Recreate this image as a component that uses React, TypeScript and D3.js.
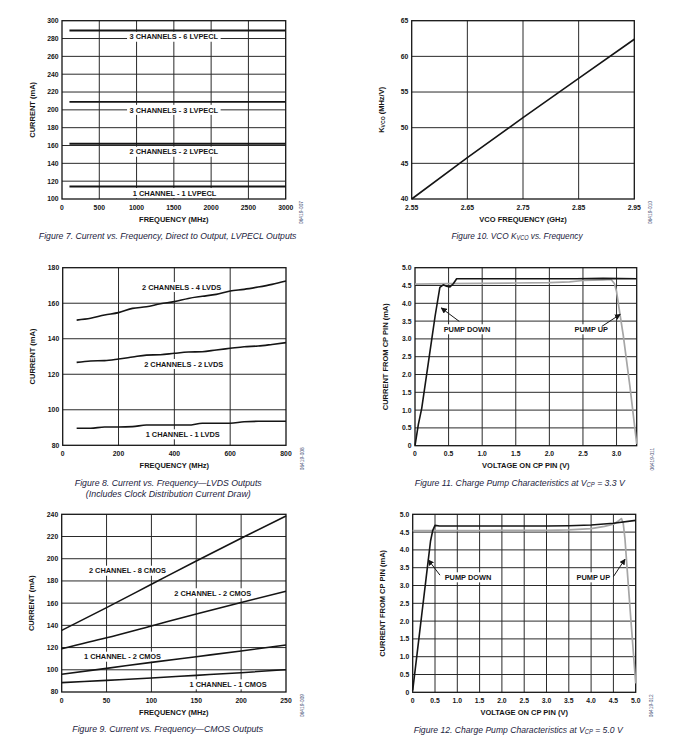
import React from 'react';
import * as d3 from 'd3';

// Figure 7 – LVPECL
const f7Freq = [100, 500, 1000, 1500, 2000, 2500, 3000];
const f7Ch3Lv6 = [289, 289, 289, 289, 289, 289, 289];
const f7Ch3Lv3 = [209, 209, 209, 209, 209, 209, 209];
const f7Ch2Lv2 = [162, 162, 162, 162, 162, 162, 162];
const f7Ch1Lv1 = [114, 114, 114, 114, 114, 114, 114];
const f7XTicks = [0, 500, 1000, 1500, 2000, 2500, 3000];
const f7YTicks = [100, 120, 140, 160, 180, 200, 220, 240, 260, 280, 300];

// Figure 10 – Kvco
const f10Freq = [2.55, 2.65, 2.75, 2.85, 2.95];
const f10Kvco = [40, 45.8, 51.4, 56.9, 62.4];
const f10XTicks = [2.55, 2.65, 2.75, 2.85, 2.95];
const f10YTicks = [40, 45, 50, 55, 60, 65];

// Figure 8 – LVDS
const f8Freq = [50, 100, 150, 200, 250, 300, 350, 400, 450, 500, 550, 600, 650, 700, 750, 800];
const f8Ch2Lv4 = [150.5, 151.5, 153.4, 154.7, 157.1, 158, 159.7, 160.9, 162.7, 163.9, 165, 166.9, 167.8, 169.1, 170.6, 172.5];
const f8Ch2Lv2 = [126.7, 127.5, 127.7, 128.6, 129.7, 130.8, 131, 131.8, 132.5, 132.7, 133.7, 134.6, 135.5, 135.9, 136.8, 137.8];
const f8Ch1Lv1 = [89.6, 89.6, 90.3, 90.3, 90.5, 91.4, 91.4, 91.4, 91.4, 92.4, 92.4, 92.4, 93.3, 93.5, 93.5, 93.5];
const f8XTicks = [0, 200, 400, 600, 800];
const f8YTicks = [80, 100, 120, 140, 160, 180];

// Figure 11 – charge pump, Vcp = 3.3 V
const f11DownV = [0, 0.05, 0.1, 0.2, 0.3, 0.37, 0.42, 0.47, 0.52, 0.57, 0.62, 0.7, 1.5, 2.4, 2.8, 3.3];
const f11DownI = [0, 0.6, 1.05, 2.35, 3.65, 4.45, 4.52, 4.48, 4.46, 4.55, 4.69, 4.69, 4.69, 4.69, 4.7, 4.69];
const f11UpV = [0, 0.5, 1, 1.5, 2, 2.3, 2.5, 2.8, 2.92, 2.97, 3.0, 3.03, 3.1, 3.2, 3.3];
const f11UpI = [4.54, 4.55, 4.56, 4.57, 4.58, 4.6, 4.64, 4.66, 4.67, 4.55, 4.33, 3.95, 3.1, 1.65, 0.05];
const f11XTicks = [0, 0.5, 1, 1.5, 2, 2.5, 3];
const cpYTicks = [0, 0.5, 1, 1.5, 2, 2.5, 3, 3.5, 4, 4.5, 5];

// Figure 9 – CMOS
const f9Freq = [0, 50, 100, 150, 200, 250];
const f9Ch2C8 = [135.5, 156, 177, 198, 218.5, 238.5];
const f9Ch2C2 = [119, 128.8, 139.5, 150.2, 160.6, 170.7];
const f9Ch1C2 = [96, 101.3, 106.7, 111.8, 116.9, 122.3];
const f9Ch1C1 = [88.4, 90.5, 92.6, 95, 97.4, 100.1];
const f9XTicks = [0, 50, 100, 150, 200, 250];
const f9YTicks = [80, 100, 120, 140, 160, 180, 200, 220, 240];

// Figure 12 – charge pump, Vcp = 5.0 V
const f12DownV = [0, 0.1, 0.2, 0.3, 0.4, 0.45, 0.5, 0.6, 1, 2, 3, 3.5, 4, 4.5, 5];
const f12DownI = [0.05, 1.1, 2.15, 3.2, 4.25, 4.55, 4.69, 4.67, 4.67, 4.67, 4.67, 4.68, 4.7, 4.75, 4.83];
const f12UpV = [0, 0.5, 1, 1.5, 2, 2.5, 3, 3.5, 4, 4.3, 4.5, 4.62, 4.68, 4.72, 4.76, 4.8, 4.9, 5];
const f12UpI = [4.54, 4.54, 4.54, 4.54, 4.55, 4.55, 4.55, 4.56, 4.6, 4.66, 4.72, 4.82, 4.88, 4.75, 4.3, 3.6, 1.9, 0.25];
const f12XTicks = [0, 0.5, 1, 1.5, 2, 2.5, 3, 3.5, 4, 4.5, 5];

const BOLD = "'Liberation Sans', Arial, sans-serif";
const CAP_FONT = "'Liberation Sans', sans-serif";
const INK = '#151515';
const GREY = '#a6a6a6';

let ctx: CanvasRenderingContext2D | null = null;
const measure = (t: string, size: number, font = `bold ${size}px 'Liberation Sans'`) => {
  if (!ctx) ctx = document.createElement('canvas').getContext('2d');
  if (!ctx) return t.length * size * 0.6;
  ctx.font = font;
  return ctx.measureText(t).width;
};

const zip = (xs: number[], ys: number[]): [number, number][] => xs.map((v, i) => [v, ys[i]]);

// text made of pieces, some subscript, each piece its own <text>
interface Seg {
  t: string;
  sub?: boolean;
}
interface RichProps {
  segs: Seg[];
  size: number;
  italic?: boolean;
  bold?: boolean;
  family: string;
  fill: string;
  transform: string;
  width?: number;
}
const Rich = ({segs, size, italic, bold, family, fill, transform, width}: RichProps) => {
  const fontOf = (s: Seg) =>
    `${italic ? 'italic ' : ''}${bold ? 'bold ' : ''}${s.sub ? size * 0.68 : size}px ${family}`;
  const ws = segs.map(s => measure(s.t, size, fontOf(s)));
  const total = d3.sum(ws);
  const k = width ? width / total : 1;
  let cur = -total / 2;
  return (
    <g transform={`${transform} scale(${k},1)`}>
      {segs.map((s, i) => {
        const lead = s.t.length - s.t.trimStart().length;
        const leadW = lead ? measure(s.t.slice(0, lead), size, fontOf(s)) : 0;
        const x0 = cur + leadW;
        cur += ws[i];
        return (
          <text
            key={i}
            x={x0}
            y={s.sub ? size * 0.22 : 0}
            dy="0.36em"
            fontFamily={family}
            fontStyle={italic ? 'italic' : 'normal'}
            fontWeight={bold ? 'bold' : 'normal'}
            fontSize={s.sub ? size * 0.68 : size}
            fill={fill}>
            {s.t.trim()}
          </text>
        );
      })}
    </g>
  );
};

interface Series {
  x: number[];
  y: number[];
  color?: string;
  width?: number;
}
interface Note {
  text: string;
  x: number;
  y: number;
}
interface Arrow {
  x1: number;
  y1: number;
  x2: number;
  y2: number;
}
interface PanelProps {
  left: number;
  top: number;
  right: number;
  bottom: number;
  xDomain: [number, number];
  yDomain: [number, number];
  xTicks: number[];
  yTicks: number[];
  xFmt: (d: number) => string;
  yFmt: (d: number) => string;
  series: Series[];
  notes: Note[];
  arrows?: Arrow[];
  smooth?: boolean;
  xTitle: string;
  yTitle: Seg[];
  caption: {segs: Seg[]; width: number}[];
  code: string;
}

const Panel = (p: PanelProps) => {
  const x = d3.scaleLinear().domain(p.xDomain).range([p.left, p.right]);
  const y = d3.scaleLinear().domain(p.yDomain).range([p.bottom, p.top]);
  const line = d3
    .line<[number, number]>()
    .x(d => x(d[0]))
    .y(d => y(d[1]))
    .curve(p.smooth ? d3.curveMonotoneX : d3.curveLinear);
  const midX = (p.left + p.right) / 2;
  const midY = (p.top + p.bottom) / 2;
  const noteSize = 7.4;

  return (
    <g>
      {p.yTicks
        .filter(t => t !== p.yDomain[0] && t !== p.yDomain[1])
        .map(t => (
          <line key={'h' + t} x1={p.left} x2={p.right} y1={y(t)} y2={y(t)} stroke="#2a2a2a" strokeWidth={1} />
        ))}
      {p.xTicks
        .filter(t => t !== p.xDomain[0] && t !== p.xDomain[1])
        .map(t => (
          <line key={'v' + t} x1={x(t)} x2={x(t)} y1={p.top} y2={p.bottom} stroke="#2a2a2a" strokeWidth={1} />
        ))}
      {p.notes.map(n => {
        const w = measure(n.text, noteSize) + 5;
        return <rect key={'b' + n.text} x={x(n.x) - w / 2} y={y(n.y) - 5} width={w} height={10} fill="#fff" />;
      })}
      <rect x={p.left} y={p.top} width={p.right - p.left} height={p.bottom - p.top} fill="none" stroke={INK} strokeWidth={1.3} />
      {p.series.map((s, i) => (
        <path key={'s' + i} d={line(zip(s.x, s.y)) || ''} fill="none" stroke={s.color || INK} strokeWidth={s.width || 1.6} strokeLinejoin="round" />
      ))}
      {p.notes.map(n => (
        <text key={'n' + n.text} x={x(n.x)} y={y(n.y)} dy="0.36em" textAnchor="middle" fontFamily={BOLD} fontWeight="bold" fontSize={noteSize} fill={INK}>
          {n.text}
        </text>
      ))}
      {(p.arrows || []).map((a, i) => (
        <line key={'a' + i} x1={x(a.x1)} y1={y(a.y1)} x2={x(a.x2)} y2={y(a.y2)} stroke={INK} strokeWidth={1} markerEnd="url(#arrowHead)" />
      ))}
      {p.yTicks.map(t => (
        <text key={'yl' + t} x={p.left - 3.5} y={y(t)} dy="0.36em" textAnchor="end" fontFamily={BOLD} fontWeight="bold" fontSize={6.8} fill={INK}>
          {p.yFmt(t)}
        </text>
      ))}
      {p.xTicks.map(t => (
        <text key={'xl' + t} x={x(t)} y={p.bottom + 10.5} textAnchor="middle" fontFamily={BOLD} fontWeight="bold" fontSize={6.8} fill={INK}>
          {p.xFmt(t)}
        </text>
      ))}
      <text x={midX} y={p.bottom + 22.7} textAnchor="middle" fontFamily={BOLD} fontWeight="bold" fontSize={7.5} fill={INK}>
        {p.xTitle}
      </text>
      <Rich
        segs={p.yTitle}
        size={7.5}
        bold
        family={BOLD}
        fill={INK}
        transform={`translate(${p.left - 30},${midY}) rotate(-90)`}
      />
      <text transform={`translate(${p.right + 16},${p.bottom + 13.5}) rotate(-90)`} dy="0.36em" textAnchor="middle" fontFamily={BOLD} fontSize={4.8} fill="#4a5478">
        {p.code}
      </text>
      {p.caption.map((c, i) => (
        <Rich
          key={'c' + i}
          segs={c.segs}
          size={9.6}
          italic
          family={CAP_FONT}
          fill="#1c2340"
          width={c.width}
          transform={`translate(${midX - 6},${p.bottom + 37 + i * 11})`}
        />
      ))}
    </g>
  );
};

const int = (d: number) => String(d);
const one = (d: number) => (d === 0 ? '0' : d.toFixed(1));
const two = (d: number) => d.toFixed(2);

export default function App() {
  return (
    <svg width={683} height={756} style={{position: 'absolute', left: 0, top: 0, background: '#fff'}}>
      <defs>
        <marker id="arrowHead" viewBox="0 0 10 10" refX={9} refY={5} markerWidth={6} markerHeight={6} markerUnits="userSpaceOnUse" orient="auto">
          <path d="M0,0 L10,5 L0,10 z" fill={INK} />
        </marker>
      </defs>
      <rect width={683} height={756} fill="#fff" />

      <Panel
        left={62}
        top={20.7}
        right={285.7}
        bottom={199}
        xDomain={[0, 3000]}
        yDomain={[100, 300]}
        xTicks={f7XTicks}
        yTicks={f7YTicks}
        xFmt={int}
        yFmt={int}
        series={[
          {x: f7Freq, y: f7Ch3Lv6, width: 1.8},
          {x: f7Freq, y: f7Ch3Lv3, width: 1.8},
          {x: f7Freq, y: f7Ch2Lv2, width: 2.1},
          {x: f7Freq, y: f7Ch1Lv1, width: 1.8},
        ]}
        notes={[
          {text: '3 CHANNELS - 6 LVPECL', x: 1500, y: 282},
          {text: '3 CHANNELS - 3 LVPECL', x: 1500, y: 200},
          {text: '2 CHANNELS - 2 LVPECL', x: 1500, y: 153},
          {text: '1 CHANNEL - 1 LVPECL', x: 1510, y: 106.7},
        ]}
        xTitle="FREQUENCY (MHz)"
        yTitle={[{t: 'CURRENT (mA)'}]}
        caption={[{segs: [{t: 'Figure 7. Current vs. Frequency, Direct to Output, LVPECL Outputs'}], width: 258}]}
        code="06419-007"
      />

      <Panel
        left={411.7}
        top={20.7}
        right={634.3}
        bottom={199}
        xDomain={[2.55, 2.95]}
        yDomain={[40, 65]}
        xTicks={f10XTicks}
        yTicks={f10YTicks}
        xFmt={two}
        yFmt={int}
        series={[{x: f10Freq, y: f10Kvco, width: 1.6}]}
        notes={[]}
        xTitle="VCO FREQUENCY (GHz)"
        yTitle={[{t: 'K'}, {t: 'VCO', sub: true}, {t: ' (MHz/V)'}]}
        caption={[
          {segs: [{t: 'Figure 10. VCO K'}, {t: 'VCO', sub: true}, {t: ' vs. Frequency'}], width: 131},
        ]}
        code="06419-010"
      />

      <Panel
        left={62.7}
        top={267.7}
        right={286}
        bottom={445.3}
        xDomain={[0, 800]}
        yDomain={[80, 180]}
        xTicks={f8XTicks}
        yTicks={f8YTicks}
        xFmt={int}
        yFmt={int}
        smooth
        series={[
          {x: f8Freq, y: f8Ch2Lv4},
          {x: f8Freq, y: f8Ch2Lv2},
          {x: f8Freq, y: f8Ch1Lv1},
        ]}
        notes={[
          {text: '2 CHANNELS - 4 LVDS', x: 426, y: 169.1},
          {text: '2 CHANNELS - 2 LVDS', x: 433.5, y: 125.8},
          {text: '1 CHANNEL - 1 LVDS', x: 430, y: 86.2},
        ]}
        xTitle="FREQUENCY (MHz)"
        yTitle={[{t: 'CURRENT (mA)'}]}
        caption={[
          {segs: [{t: 'Figure 8. Current vs. Frequency\u2014LVDS Outputs'}], width: 187},
          {segs: [{t: '(Includes Clock Distribution Current Draw)'}], width: 165},
        ]}
        code="06419-008"
      />

      <Panel
        left={415}
        top={267.7}
        right={636.7}
        bottom={445.7}
        xDomain={[0, 3.3]}
        yDomain={[0, 5]}
        xTicks={f11XTicks}
        yTicks={cpYTicks}
        xFmt={one}
        yFmt={one}
        series={[
          {x: f11UpV, y: f11UpI, color: GREY, width: 1.7},
          {x: f11DownV, y: f11DownI, width: 1.6},
        ]}
        notes={[
          {text: 'PUMP DOWN', x: 0.774, y: 3.27},
          {text: 'PUMP UP', x: 2.624, y: 3.27},
        ]}
        arrows={[
          {x1: 0.66, y1: 3.49, x2: 0.39, y2: 3.87},
          {x1: 2.78, y1: 3.35, x2: 3.055, y2: 3.69},
        ]}
        xTitle="VOLTAGE ON CP PIN (V)"
        yTitle={[{t: 'CURRENT FROM CP PIN (mA)'}]}
        caption={[
          {
            segs: [{t: 'Figure 11. Charge Pump Characteristics at V'}, {t: 'CP', sub: true}, {t: ' = 3.3 V'}],
            width: 210,
          },
        ]}
        code="06419-011"
      />

      <Panel
        left={61.7}
        top={514.3}
        right={286}
        bottom={692}
        xDomain={[0, 250]}
        yDomain={[80, 240]}
        xTicks={f9XTicks}
        yTicks={f9YTicks}
        xFmt={int}
        yFmt={int}
        smooth
        series={[
          {x: f9Freq, y: f9Ch2C8},
          {x: f9Freq, y: f9Ch2C2},
          {x: f9Freq, y: f9Ch1C2},
          {x: f9Freq, y: f9Ch1C1},
        ]}
        notes={[
          {text: '2 CHANNEL - 8 CMOS', x: 73.3, y: 189.2},
          {text: '2 CHANNEL - 2 CMOS', x: 168.4, y: 168.9},
          {text: '1 CHANNEL - 2 CMOS', x: 67.8, y: 111.8},
          {text: '1 CHANNEL - 1 CMOS', x: 185.4, y: 86.9},
        ]}
        xTitle="FREQUENCY (MHz)"
        yTitle={[{t: 'CURRENT (mA)'}]}
        caption={[{segs: [{t: 'Figure 9. Current vs. Frequency\u2014CMOS Outputs'}], width: 191}]}
        code="06419-009"
      />

      <Panel
        left={412.7}
        top={514.3}
        right={635.7}
        bottom={692.3}
        xDomain={[0, 5]}
        yDomain={[0, 5]}
        xTicks={f12XTicks}
        yTicks={cpYTicks}
        xFmt={one}
        yFmt={one}
        series={[
          {x: f12UpV, y: f12UpI, color: GREY, width: 1.7},
          {x: f12DownV, y: f12DownI, width: 1.6},
        ]}
        notes={[
          {text: 'PUMP DOWN', x: 1.24, y: 3.23},
          {text: 'PUMP UP', x: 4.05, y: 3.23},
        ]}
        arrows={[
          {x1: 0.612, y1: 3.29, x2: 0.35, y2: 3.72},
          {x1: 4.5, y1: 3.25, x2: 4.76, y2: 3.74},
        ]}
        xTitle="VOLTAGE ON CP PIN (V)"
        yTitle={[{t: 'CURRENT FROM CP PIN (mA)'}]}
        caption={[
          {
            segs: [{t: 'Figure 12. Charge Pump Characteristics at V'}, {t: 'CP', sub: true}, {t: ' = 5.0 V'}],
            width: 209,
          },
        ]}
        code="06419-012"
      />
    </svg>
  );
}
